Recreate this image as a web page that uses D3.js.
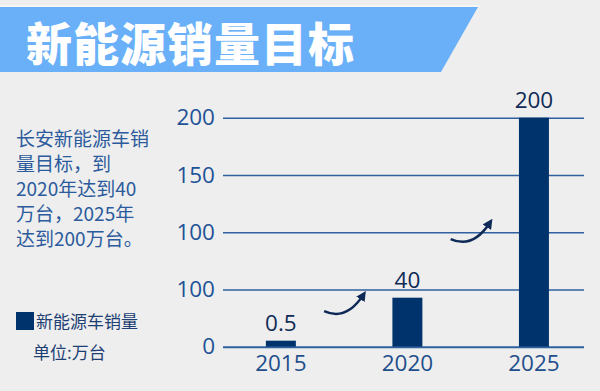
<!DOCTYPE html>
<html>
<head>
<meta charset="utf-8">
<script src="https://cdn.jsdelivr.net/npm/d3@7"></script>
<style>
  body { margin: 0; background: #eeeeee; }
  svg { display: block; }
</style>
</head>
<body>
<script>
// data
var years = ["2015", "2020", "2025"];
var sales = [0.5, 40, 200];
var salesLabels = ["0.5", "40", "200"];
var tickLabels = ["0", "100", "100", "150", "200"];
var noteLines = ["长安新能源车销", "量目标，到", "2020年达到40", "万台，2025年", "达到200万台。"];
var title = "新能源销量目标";
var legendName = "新能源车销量";
var unitText = "单位:万台";

// the picture's axis is broken (not linear), so values go through a
// piecewise scale into "tick slots" first, then into pixels
var valueToSlot = d3.scaleLinear()
    .domain([0, 0.5, 40, 200])
    .range([0, 0.105, 0.856, 4]);

var width = 600, height = 391;
var plot = {left: 223, right: 584, top: 117.7, bottom: 346.7};

var svg = d3.select("body").append("svg")
    .attr("width", width)
    .attr("height", height);

svg.append("rect")
    .attr("width", width).attr("height", height)
    .attr("fill", "#eeeeee");

// banner
svg.append("line")
    .attr("x1", 0).attr("x2", 480).attr("y1", 6).attr("y2", 6)
    .attr("stroke", "#ffffff").attr("stroke-width", 1);

svg.append("path")
    .attr("d", "M0,7 L478,7 L441,72 L0,72 Z")
    .attr("fill", "#69b0f8");

svg.append("text")
    .attr("x", 26).attr("y", 61)
    .attr("font-family", "'Noto Sans CJK SC', sans-serif")
    .attr("font-weight", 900)
    .attr("font-size", 46)
    .attr("fill", "#ffffff")
    .attr("letter-spacing", 1)
    .text(title);

// note text on the left
svg.append("g").selectAll("text")
    .data(noteLines)
  .enter().append("text")
    .attr("x", 16)
    .attr("y", (d, i) => 146 + i * 25)
    .attr("font-family", "'Noto Sans CJK SC', sans-serif")
    .attr("font-size", 19)
    .attr("fill", "#2b5b9c")
    .text(d => d);

// legend
svg.append("rect")
    .attr("x", 16).attr("y", 312)
    .attr("width", 18).attr("height", 18)
    .attr("fill", "#00336b");

svg.append("text")
    .attr("x", 36).attr("y", 328)
    .attr("font-family", "'Noto Sans CJK SC', sans-serif")
    .attr("font-size", 17)
    .attr("fill", "#1d3f73")
    .text(legendName);

svg.append("text")
    .attr("x", 33).attr("y", 359)
    .attr("font-family", "'Noto Sans CJK SC', sans-serif")
    .attr("font-size", 17)
    .attr("fill", "#1d3f73")
    .text(unitText);

// scales
var x = d3.scaleBand()
    .domain(years)
    .range([plot.left, plot.right])
    .paddingInner(0.763)
    .paddingOuter(0.308)
    .align(0.55);

var y = d3.scaleLinear()
    .domain([0, tickLabels.length - 1])
    .range([plot.bottom, plot.top]);

// y axis: gridlines + labels
var yAxis = d3.axisLeft(y)
    .tickValues(d3.range(tickLabels.length))
    .tickFormat((d, i) => tickLabels[i])
    .tickSize(-(plot.right - plot.left))
    .tickPadding(8);

var gy = svg.append("g")
    .attr("class", "y axis")
    .attr("transform", "translate(" + plot.left + ",0)")
    .call(yAxis);

gy.select(".domain").remove();
gy.selectAll(".tick line")
    .attr("stroke", "#2f61a0")
    .attr("stroke-width", (d, i) => i === 0 ? 2 : 1.5);
gy.selectAll(".tick text")
    .attr("font-family", "'Open Sans', sans-serif")
    .attr("font-size", 22.5)
    .attr("fill", "#1f5296");

// x axis labels
var gx = svg.append("g")
    .attr("class", "x axis")
    .attr("transform", "translate(0," + plot.bottom + ")")
    .call(d3.axisBottom(x).tickSize(0).tickPadding(8));

gx.select(".domain").remove();
gx.selectAll(".tick text")
    .attr("font-family", "'Open Sans', sans-serif")
    .attr("font-size", 22.5)
    .attr("fill", "#1f4e8c");

// bars
var rows = years.map((d, i) => ({year: d, value: sales[i], label: salesLabels[i]}));

svg.append("g").selectAll("rect")
    .data(rows)
  .enter().append("rect")
    .attr("x", d => x(d.year))
    .attr("width", x.bandwidth())
    .attr("y", d => y(valueToSlot(d.value)))
    .attr("height", d => y(0) - y(valueToSlot(d.value)))
    .attr("fill", "#00336b");

svg.append("g").selectAll("text")
    .data(rows)
  .enter().append("text")
    .attr("x", d => x(d.year) + x.bandwidth() / 2)
    .attr("y", d => y(valueToSlot(d.value)) - 10)
    .attr("text-anchor", "middle")
    .attr("font-family", "'Open Sans', sans-serif")
    .attr("font-size", 22.5)
    .attr("fill", "#0f2a56")
    .text(d => d.label);

// curved arrows between the bars
var arrowSlots = [0.76, 2.02];
var marker = svg.append("defs").append("marker")
    .attr("id", "head")
    .attr("viewBox", "0 0 10 10")
    .attr("refX", 5).attr("refY", 5)
    .attr("markerWidth", 4).attr("markerHeight", 4)
    .attr("orient", "auto");
marker.append("path")
    .attr("d", "M0,0 L10,5 L0,10 Z")
    .attr("fill", "#0f2a56");

svg.append("g").selectAll("path")
    .data(arrowSlots)
  .enter().append("path")
    .attr("d", (d, i) => {
      var cx = (x(years[i]) + x(years[i + 1]) + x.bandwidth()) / 2;
      var cy = y(d);
      return "M" + (cx - 20) + "," + (cy + 8)
        + " Q" + (cx + 2) + "," + (cy + 18) + " " + (cx + 19) + "," + (cy - 8);
    })
    .attr("fill", "none")
    .attr("stroke", "#0f2a56")
    .attr("stroke-width", 2.5)
    .attr("marker-end", "url(#head)");
</script>
</body>
</html>
